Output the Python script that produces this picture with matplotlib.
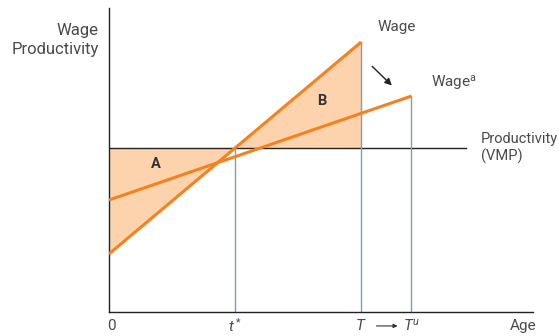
import matplotlib.pyplot as plt
import numpy as np

plt.rcParams['font.family'] = ['Roboto', 'DejaVu Sans']
plt.rcParams['mathtext.fontset'] = 'custom'
plt.rcParams['mathtext.it'] = 'Roboto:italic'
plt.rcParams['mathtext.rm'] = 'Roboto'

# age points (t*, T, T^u) and levels in chart units
ages = [0, 2.5, 5.0, 6.0]
age_labels = ['0', '$t^*$', '$T$', '$T^u$']
productivity = 10.0
wage = [3.54, 16.46]        # steep wage profile at age 0 and T
wage_a = [6.83, 13.17]      # flatter wage profile at age 0 and T^u

orange = '#F5821F'
peach = '#FDD3AE'
vcol = '#7F9FB5'
tcol = '#4a4a4a'

fig = plt.figure(figsize=(5.59, 3.36), dpi=100)
ax = fig.add_axes([109 / 559, 24 / 336, 424 / 559, 304 / 336])
ax.set_xlim(0, 8.41)
ax.set_ylim(0, 18.54)

for s in ['top', 'right']:
    ax.spines[s].set_visible(False)
for s in ['left', 'bottom']:
    ax.spines[s].set_color('#222222')
    ax.spines[s].set_linewidth(1.0)
ax.set_xticks([])
ax.set_yticks([])

t_star, T, T_u = ages[1], ages[2], ages[3]

def wage_at(x):
    return wage[0] + (wage[1] - wage[0]) * x / T

# shaded areas A and B
xs = [0, t_star, T]
ax.fill_between(xs, [wage_at(x) for x in xs], productivity, color=peach, lw=0, zorder=1)

# productivity line
ax.plot([0, 7.08], [productivity, productivity], color='#222222', lw=1.0, zorder=2)

# vertical guide lines
ax.plot([t_star, t_star], [0, productivity], color=vcol, lw=1.0, zorder=2)
ax.plot([T, T], [0, wage[1]], color=vcol, lw=1.0, zorder=2)
ax.plot([T_u, T_u], [0, wage_a[1]], color=vcol, lw=1.0, zorder=2)

# wage profiles
ax.plot([0, T], wage, color=orange, lw=2.2, zorder=3, solid_capstyle='butt')
ax.plot([0, T_u], wage_a, color=orange, lw=2.2, zorder=3, solid_capstyle='butt')

ax.text(-0.2, 16.6, 'Wage\nProductivity', ha='right', va='center', linespacing=1.3,
        fontsize=12, color=tcol)
ax.text(5.33, 17.4, 'Wage', ha='left', va='center', fontsize=11, color=tcol)
ax.text(6.38, 13.95, 'Wage$^{\\mathrm{a}}$', ha='left', va='center', fontsize=11, color=tcol)
ax.text(7.38, 10.0, 'Productivity\n(VMP)', ha='left', va='center', linespacing=1.2,
        fontsize=10.5, color=tcol)
ax.annotate('', xy=(5.65, 13.7), xytext=(5.18, 15.1),
            arrowprops=dict(arrowstyle='-|>', color='#222222', lw=1.0, mutation_scale=10))

ax.text(0.93, 9.0, 'A', fontsize=10.5, fontweight='bold', color='#333333', ha='center', va='center')
ax.text(4.22, 12.85, 'B', fontsize=10.5, fontweight='bold', color='#333333', ha='center', va='center')

# age axis labels
for a, lab in zip(ages, age_labels):
    ax.text(a + (0.05 if a == 0 else 0), -0.85, lab, ha='center', va='center', fontsize=11, color=tcol)
ax.text(8.22, -0.85, 'Age', ha='center', va='center', fontsize=11, color=tcol)
ax.annotate('', xy=(T_u - 0.22, -0.85), xytext=(T + 0.25, -0.85),
            arrowprops=dict(arrowstyle='-|>', color='#333333', lw=0.8, mutation_scale=6),
            annotation_clip=False)

fig.savefig('out.png', dpi=100)
